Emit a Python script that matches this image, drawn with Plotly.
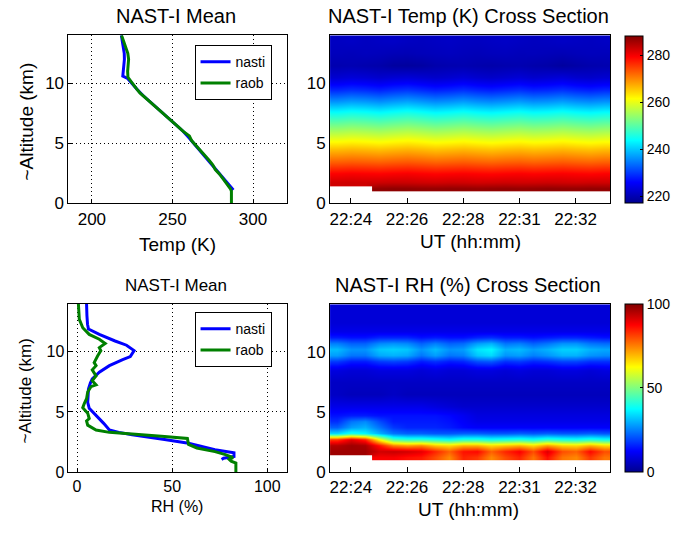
import plotly.graph_objects as go

nan = float("nan")

# ---------------- data ----------------
alt_t_nasti = [1.10, 1.5, 2.0, 2.5, 3.0, 3.5, 4.0, 4.5, 5.0, 5.5, 6.0, 6.5, 7.0, 7.5, 8.0,
               8.5, 9.0, 9.5, 10.0, 10.4, 10.6, 11.0, 11.5, 12.0, 12.5, 13.0, 13.5, 14.0]
temp_nasti = [287.8, 285.3, 282.0, 278.8, 275.8, 272.8, 269.6, 266.5, 263.6, 260.0, 256.6,
              252.4, 248.0, 243.8, 239.6, 235.4, 231.6, 228.0, 224.8, 222.2, 219.2, 219.6,
              220.0, 220.2, 220.1, 219.6, 219.0, 218.3]

alt_t_raob = [0.0, 1.0, 1.2, 1.6, 2.0, 2.4, 2.8, 3.2, 3.6, 4.0, 4.4, 4.8, 5.2, 5.6, 6.0, 6.4,
              6.8, 7.2, 7.6, 8.0, 8.4, 8.8, 9.2, 9.6, 10.0, 10.5, 11.0, 11.5, 12.0, 12.5,
              13.0, 13.5, 14.0]
temp_raob = [286.6, 286.6, 286.0, 283.8, 281.6, 279.4, 276.6, 275.0, 272.6, 269.8, 267.3,
             264.5, 262.0, 260.5, 256.5, 253.3, 250.2, 246.6, 243.3, 239.8, 236.2, 232.6,
             229.8, 227.4, 225.0, 222.4, 222.2, 222.6, 222.8, 222.3, 220.8, 219.7, 218.4]

alt_rh_nasti = [1.05, 1.15, 1.3, 1.6, 1.85, 2.15, 2.4, 2.7, 2.9, 3.1, 3.3, 3.5, 4.05, 4.75,
                5.3, 5.8, 6.4, 6.9, 7.4, 7.75, 8.3, 8.85, 9.35, 9.6, 10.1, 10.55, 10.9,
                11.45, 11.9, 12.3, 13.0, 14.0]
rh_nasti = [76.0, 77.0, 82.5, 82.5, 72.5, 64.0, 58.6, 46.0, 37.0, 29.0, 22.0, 17.0, 14.0,
            10.0, 6.4, 5.6, 5.8, 6.0, 7.0, 8.0, 11.7, 17.0, 24.0, 28.0, 30.0, 26.0, 20.0,
            11.7, 6.0, 5.5, 5.2, 5.0]

alt_rh_raob = [0.0, 0.75, 0.9, 1.05, 1.2, 1.45, 1.7, 2.0, 2.3, 2.8, 2.95, 3.15, 3.3, 3.5,
               3.9, 4.25, 4.45, 4.9, 5.35, 5.7, 6.1, 6.65, 7.1, 7.25, 7.6, 8.0, 8.5, 8.85,
               9.1, 9.65, 10.1, 10.35, 10.7, 11.05, 11.45, 12.0, 12.7, 14.0]
rh_raob = [83.5, 83.5, 81.0, 80.0, 82.0, 78.0, 72.5, 63.0, 58.6, 58.0, 46.0, 29.0, 17.0,
           10.0, 5.6, 5.0, 6.4, 5.6, 3.0, 3.8, 5.0, 5.6, 7.3, 10.0, 8.0, 10.0, 8.0, 10.0,
           9.0, 10.8, 12.5, 11.7, 14.8, 11.7, 6.4, 3.0, 1.2, 0.7]

scan_index = [0, 1, 2, 3, 4, 5, 6, 7, 8, 9, 10, 11, 12, 13, 14, 15, 16, 17, 18, 19]
time_tick_index = [1, 5, 9, 13, 17]
time_tick_labels = ["22:24", "22:26", "22:28", "22:31", "22:32"]

temp_levels = [1.25, 1.75, 2.5, 3.5, 4.5, 5.5, 6.5, 7.5, 8.5, 9.5, 10.5, 11.5, 12.5, 13.5]
temp_cross = [
    [nan, nan, nan, 286.8, 287.0, 286.9, 286.6, 286.5, 286.7, 286.6, 286.4, 286.6, 286.7, 286.5, 286.6, 286.8, 286.6, 286.5, 286.7, 286.6],
    [282.4, 282.6, 282.5, 282.7, 282.9, 282.8, 282.5, 282.3, 282.6, 282.5, 282.2, 282.4, 282.6, 282.4, 282.5, 282.7, 282.5, 282.3, 282.6, 282.5],
    [279.2, 279.5, 279.3, 279.1, 279.4, 279.6, 279.2, 278.9, 279.1, 279.3, 279.0, 278.8, 279.1, 279.3, 279.0, 279.2, 279.4, 279.1, 278.9, 279.2],
    [272.3, 272.6, 272.4, 272.1, 272.5, 272.8, 272.4, 271.9, 272.2, 272.5, 272.1, 271.8, 272.2, 272.4, 272.0, 272.3, 272.6, 272.2, 271.9, 272.3],
    [266.1, 266.5, 266.2, 265.8, 266.3, 266.7, 266.2, 265.6, 266.0, 266.4, 265.9, 265.5, 266.0, 266.3, 265.8, 266.1, 266.5, 266.0, 265.6, 266.1],
    [259.0, 259.5, 259.2, 258.7, 259.3, 259.8, 259.2, 258.5, 258.9, 259.4, 258.8, 258.4, 258.9, 259.3, 258.7, 259.0, 259.5, 258.9, 258.5, 259.0],
    [252.0, 252.6, 252.2, 251.6, 252.3, 252.9, 252.2, 251.4, 251.9, 252.5, 251.8, 251.3, 251.9, 252.4, 251.7, 252.0, 252.6, 251.9, 251.4, 252.0],
    [244.8, 245.5, 245.1, 244.4, 245.2, 245.9, 245.1, 244.2, 244.7, 245.4, 244.6, 244.1, 244.7, 245.3, 244.5, 244.8, 245.5, 244.7, 244.2, 244.8],
    [236.2, 237.0, 236.6, 235.8, 236.7, 237.4, 236.5, 235.6, 236.1, 236.9, 236.0, 235.5, 236.1, 236.8, 235.9, 236.2, 237.0, 236.1, 235.6, 236.2],
    [228.3, 229.0, 228.6, 227.9, 228.8, 229.3, 228.5, 227.7, 228.2, 228.9, 228.1, 227.6, 228.2, 228.8, 228.0, 228.3, 229.0, 228.2, 227.7, 228.3],
    [222.4, 222.9, 222.6, 222.0, 222.5, 222.8, 222.3, 221.8, 222.2, 222.8, 222.1, 221.7, 222.2, 222.7, 222.0, 222.4, 222.9, 222.1, 221.8, 222.3],
    [219.6, 219.8, 219.5, 219.2, 218.4, 218.2, 218.5, 219.3, 219.6, 219.7, 219.4, 219.2, 219.5, 219.7, 219.3, 219.0, 218.3, 218.9, 219.4, 219.6],
    [220.6, 220.4, 220.7, 220.5, 220.2, 220.1, 220.4, 220.6, 220.8, 220.5, 220.3, 220.6, 220.7, 220.4, 220.5, 220.3, 220.1, 220.4, 220.6, 220.5],
    [221.0, 221.3, 220.9, 221.2, 221.4, 221.0, 220.8, 221.1, 221.3, 221.0, 220.9, 221.2, 221.4, 221.1, 220.8, 221.0, 221.3, 221.1, 220.9, 221.2],
]

rh_levels = [1.25, 1.75, 2.25, 2.75, 3.25, 3.75, 4.25, 4.75, 5.5, 6.5, 7.5, 8.5, 9.25, 9.75,
             10.25, 10.75, 11.25, 11.75, 12.5, 13.5]
rh_cross = [
    [nan, nan, nan, 88, 88, 86, 85, 80, 74, 84, 82, 74, 80, 84, 76, 86, 76, 74, 82, 76],
    [97, 97, 97, 92, 93, 92, 90, 84, 78, 86, 87, 78, 84, 88, 80, 91, 80, 78, 87, 80],
    [95, 97, 96, 86, 75, 72, 74, 68, 66, 70, 70, 66, 68, 70, 66, 72, 67, 66, 70, 66],
    [82, 90, 84, 62, 45, 42, 42, 40, 38, 41, 41, 39, 40, 41, 39, 42, 40, 39, 41, 39],
    [34, 40, 37, 30, 24, 22, 22, 21, 21, 22, 22, 21, 21, 22, 21, 22, 21, 21, 22, 21],
    [22, 28, 30, 24, 18, 16, 16, 16, 15, 13, 12, 12, 12, 12, 12, 12, 12, 12, 12, 12],
    [17, 24, 26, 20, 15, 15, 15, 15, 14, 12, 10, 10, 10, 10, 10, 10, 10, 10, 10, 10],
    [14, 15, 15, 14, 14, 14, 14, 14, 13, 11, 9, 9, 9, 9, 9, 9, 9, 9, 9, 9],
    [10, 10, 10, 10, 10, 10, 10, 9, 8, 7, 7, 7, 7, 7, 7, 7, 7, 7, 7, 7],
    [6, 5, 5, 5, 6, 5, 5, 5, 5, 5, 5, 5, 5, 5, 5, 5, 5, 5, 5, 5],
    [6, 6, 6, 6, 6, 6, 6, 6, 6, 6, 6, 6, 6, 6, 6, 6, 6, 6, 6, 6],
    [9, 8, 8, 9, 9, 9, 8, 9, 8, 8, 9, 9, 8, 9, 8, 8, 9, 9, 8, 9],
    [18, 15, 15, 18, 19, 18, 15, 17, 15, 16, 20, 21, 17, 18, 16, 17, 19, 19, 17, 17],
    [28, 24, 24, 29, 30, 29, 24, 28, 24, 25, 32, 34, 27, 28, 25, 27, 30, 30, 27, 26],
    [31, 27, 27, 32, 33, 32, 27, 31, 27, 28, 35, 37, 30, 31, 28, 30, 33, 33, 30, 29],
    [25, 22, 22, 26, 27, 26, 22, 25, 22, 23, 28, 30, 24, 25, 22, 24, 27, 27, 24, 23],
    [15, 14, 14, 16, 16, 16, 14, 15, 14, 14, 16, 17, 15, 15, 14, 15, 16, 16, 15, 14],
    [10, 10, 10, 10, 10, 10, 10, 10, 10, 10, 10, 10, 10, 10, 10, 10, 10, 10, 10, 10],
    [8, 8, 8, 8, 8, 8, 8, 8, 8, 8, 8, 8, 8, 8, 8, 8, 8, 8, 8, 8],
    [8, 8, 8, 8, 8, 8, 8, 8, 8, 8, 8, 8, 8, 8, 8, 8, 8, 8, 8, 8],
]

# ---------------- styling ----------------
W, H = 674, 537
FONT = "Liberation Sans, Arial, Helvetica, sans-serif"
jet = [[0.0, "rgb(0,0,143)"], [0.125, "rgb(0,0,255)"], [0.375, "rgb(0,255,255)"],
       [0.625, "rgb(255,255,0)"], [0.875, "rgb(255,0,0)"], [1.0, "rgb(128,0,0)"]]


def px_x(p):
    return p / W


def px_y(p):
    return 1 - p / H


fig = go.Figure()

# line profiles
fig.add_trace(go.Scatter(x=temp_nasti, y=alt_t_nasti, mode="lines", name="nasti",
                         line=dict(color="rgb(0,0,255)", width=3), xaxis="x", yaxis="y",
                         legend="legend"))
fig.add_trace(go.Scatter(x=temp_raob, y=alt_t_raob, mode="lines", name="raob",
                         line=dict(color="rgb(0,128,0)", width=3), xaxis="x", yaxis="y",
                         legend="legend"))
fig.add_trace(go.Scatter(x=rh_nasti, y=alt_rh_nasti, mode="lines", name="nasti",
                         line=dict(color="rgb(0,0,255)", width=3), xaxis="x3", yaxis="y3",
                         legend="legend2"))
fig.add_trace(go.Scatter(x=rh_raob, y=alt_rh_raob, mode="lines", name="raob",
                         line=dict(color="rgb(0,128,0)", width=3), xaxis="x3", yaxis="y3",
                         legend="legend2"))

cb_common = dict(xref="paper", x=px_x(629.5), xanchor="left", thickness=18,
                 thicknessmode="pixels", lenmode="fraction", yanchor="bottom",
                 outlinecolor="black", outlinewidth=1, ticks="inside", ticklen=3,
                 tickcolor="black", xpad=0, ypad=0,
                 tickfont=dict(family=FONT, size=14, color="black"))

fig.add_trace(go.Heatmap(x=scan_index, y=temp_levels, z=temp_cross, zmin=217, zmax=288,
                         colorscale=jet, zsmooth="best", xaxis="x2", yaxis="y2",
                         showscale=True, hoverongaps=False,
                         colorbar=dict(cb_common, y=px_y(207.3), len=(207.3 - 37) / H,
                                       tickvals=[220, 240, 260, 280])))
fig.add_trace(go.Heatmap(x=scan_index, y=rh_levels, z=rh_cross, zmin=0, zmax=100,
                         colorscale=jet, zsmooth="best", xaxis="x4", yaxis="y4",
                         showscale=True, hoverongaps=False,
                         colorbar=dict(cb_common, y=px_y(480.7), len=(480.7 - 310) / H,
                                       tickvals=[0, 50, 100])))

line_ax = dict(showline=True, linecolor="black", linewidth=1, mirror=True, ticks="inside",
               ticklen=4, tickcolor="black", zeroline=False, showgrid=True,
               gridcolor="black", griddash="1px,3px", gridwidth=1,
               tickfont=dict(family=FONT, size=17, color="black"))
heat_ax = dict(showline=True, linecolor="black", linewidth=1, mirror=True, zeroline=False,
               showgrid=False, tickfont=dict(family=FONT, size=17, color="black"))

L1, R1 = px_x(69), px_x(289)
L2, R2 = px_x(332.5), px_x(615)

fig.update_layout(
    width=W, height=H, margin=dict(l=0, r=0, t=0, b=0),
    paper_bgcolor="white", plot_bgcolor="white",
    font=dict(family=FONT, color="black"),
    xaxis=dict(line_ax, domain=[L1, R1], anchor="y", range=[185.5, 321],
               tickvals=[200, 250, 300]),
    yaxis=dict(line_ax, domain=[px_y(207), px_y(36)], anchor="x", range=[0, 14],
               tickvals=[0, 5, 10]),
    xaxis3=dict(line_ax, domain=[L1, R1], anchor="y3", range=[-4.5, 110.3],
                tickvals=[0, 50, 100], tickfont=dict(family=FONT, size=16, color="black")),
    yaxis3=dict(line_ax, domain=[px_y(481), px_y(309.5)], anchor="x3", range=[0, 14],
                tickvals=[0, 5, 10], tickfont=dict(family=FONT, size=16, color="black")),
    xaxis2=dict(heat_ax, domain=[L2, R2], anchor="y2", range=[-0.48, 19.48],
                tickvals=time_tick_index, ticktext=time_tick_labels, ticks="inside",
                ticklen=5, tickcolor="black"),
    yaxis2=dict(heat_ax, domain=[px_y(207.3), px_y(36)], anchor="x2", range=[0, 13.97],
                tickvals=[0, 5, 10], ticks=""),
    xaxis4=dict(heat_ax, domain=[L2, R2], anchor="y4", range=[-0.48, 19.48],
                tickvals=time_tick_index, ticktext=time_tick_labels, ticks="inside",
                ticklen=5, tickcolor="black"),
    yaxis4=dict(heat_ax, domain=[px_y(480.7), px_y(310)], anchor="x4", range=[0, 13.97],
                tickvals=[0, 5, 10], ticks=""),
    legend=dict(x=px_x(196), xanchor="left", y=px_y(46), yanchor="top",
                bordercolor="black", borderwidth=1, bgcolor="white",
                font=dict(family=FONT, size=14, color="black"), tracegroupgap=0),
    legend2=dict(x=px_x(196), xanchor="left", y=px_y(318), yanchor="top",
                 bordercolor="black", borderwidth=1, bgcolor="white",
                 font=dict(family=FONT, size=14, color="black"), tracegroupgap=0),
    showlegend=True,
)

annots = [
    ("NAST-I Mean", 177, 16, 20, 0),
    ("NAST-I Temp (K) Cross Section", 472, 16, 20, 0),
    ("NAST-I Mean", 177, 291, 17, 0),
    ("NAST-I RH (%) Cross Section", 472, 290, 20, 0),
    ("Temp (K)", 179, 249, 19, 0),
    ("UT (hh:mm)", 474, 246, 19, 0),
    ("RH (%)", 178, 516, 16, 0),
    ("UT (hh:mm)", 472, 519, 19, 0),
    ("~Altitude (km)", 27, 124, 19, -90),
    ("~Altitude (km)", 26, 398, 17, -90),
]
for text, ax_, ay_, size, ang in annots:
    fig.add_annotation(text=text, x=px_x(ax_), y=px_y(ay_), xref="paper", yref="paper",
                       xanchor="center", yanchor="middle", showarrow=False, textangle=ang,
                       font=dict(family=FONT, size=size, color="black"))

# remove the default 8px page margin so the figure sits at the window's top-left corner
fig.write_html("out.html", config={"displayModeBar": False},
               post_script="document.body.style.margin='0px';")
